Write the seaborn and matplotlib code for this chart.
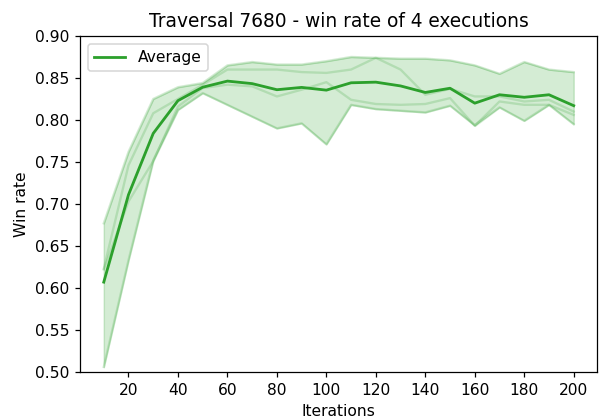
import numpy as np
import pandas as pd
import matplotlib
matplotlib.use("Agg")
import matplotlib.pyplot as plt
import seaborn as sns

iterations = [10, 20, 30, 40, 50, 60, 70, 80, 90, 100,
              110, 120, 130, 140, 150, 160, 170, 180, 190, 200]
run_a = [0.677, 0.762, 0.825, 0.839, 0.844, 0.865, 0.869, 0.866, 0.866, 0.870,
         0.875, 0.874, 0.873, 0.873, 0.871, 0.865, 0.855, 0.869, 0.860, 0.857]
run_b = [0.623, 0.746, 0.808, 0.825, 0.842, 0.860, 0.860, 0.860, 0.857, 0.856,
         0.860, 0.874, 0.860, 0.830, 0.837, 0.828, 0.828, 0.822, 0.824, 0.810]
run_c = [0.622, 0.703, 0.751, 0.816, 0.838, 0.842, 0.840, 0.828, 0.836, 0.845,
         0.824, 0.819, 0.818, 0.819, 0.826, 0.793, 0.822, 0.818, 0.818, 0.806]
run_d = [0.506, 0.633, 0.752, 0.812, 0.832, 0.818, 0.804, 0.790, 0.796, 0.771,
         0.818, 0.813, 0.811, 0.809, 0.817, 0.794, 0.815, 0.799, 0.818, 0.795]
runs = {"run1": run_a, "run2": run_b, "run3": run_c, "run4": run_d}

title = "Traversal 7680 - win rate of 4 executions"
xticks = [20, 40, 60, 80, 100, 120, 140, 160, 180, 200]
yticks = [0.50, 0.55, 0.60, 0.65, 0.70, 0.75, 0.80, 0.85, 0.90]

df = pd.concat([pd.DataFrame({"Iterations": iterations, "Win rate": v, "run": k})
                for k, v in runs.items()], ignore_index=True)

green = "#2ca02c"
DPI = 112
fig, ax = plt.subplots(figsize=(599 / DPI, 418 / DPI), dpi=DPI)

# individual executions
sns.lineplot(data=df, x="Iterations", y="Win rate", units="run", estimator=None,
             color=green, alpha=0.2, linewidth=1.5, ax=ax, legend=False)
# average with min-max band
sns.lineplot(data=df, x="Iterations", y="Win rate", color=green,
             errorbar=lambda s: (s.min(), s.max()), linewidth=1.8,
             label="Average", ax=ax)

ax.set_ylim(0.5, 0.9)
ax.set_yticks(yticks)
ax.set_xticks(xticks)
ax.set_title(title, fontsize=12)
ax.set_xlabel("Iterations")
ax.set_ylabel("Win rate")
ax.legend(loc="upper left")

fig.subplots_adjust(left=0.134, right=0.997, top=0.914, bottom=0.11)
fig.savefig("out.png", dpi=DPI)
